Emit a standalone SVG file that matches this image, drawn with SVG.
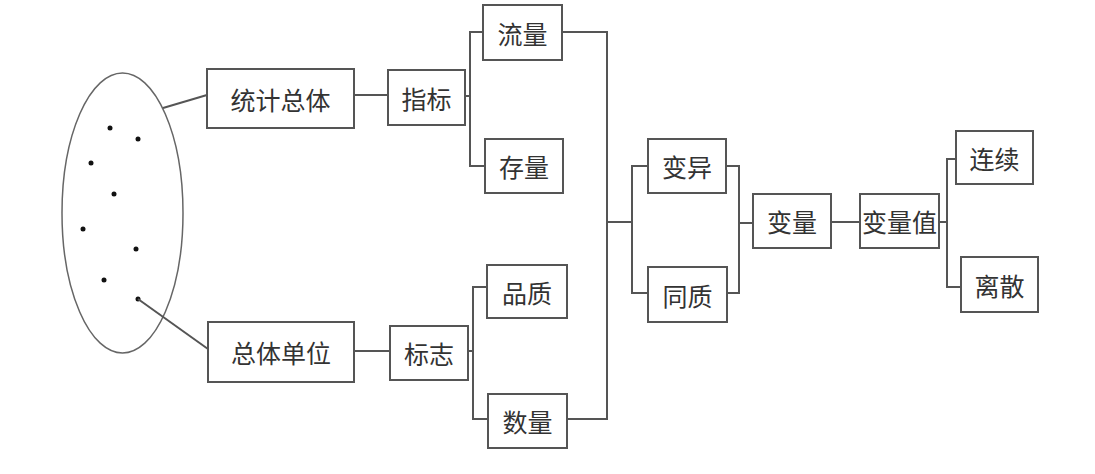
<svg xmlns="http://www.w3.org/2000/svg" width="1095" height="474" viewBox="0 0 1095 474">
<style>
.box{fill:#fff;stroke:#555;stroke-width:2}
.t{font-family:"Noto Sans CJK SC","Noto Sans",sans-serif;font-size:25px;fill:#333;text-anchor:middle;dominant-baseline:central}
.c{fill:none;stroke:#555;stroke-width:2}
.dot{fill:#111}
</style>
<rect width="1095" height="474" fill="#fff"/>
<g id="population">
<ellipse cx="122.5" cy="213" rx="60.5" ry="140" fill="none" stroke="#666" stroke-width="1.5"/>
<circle class="dot" cx="110" cy="128" r="2.5"/>
<circle class="dot" cx="138" cy="139" r="2.5"/>
<circle class="dot" cx="91" cy="163" r="2.5"/>
<circle class="dot" cx="114" cy="194" r="2.5"/>
<circle class="dot" cx="83" cy="229" r="2.5"/>
<circle class="dot" cx="136" cy="249" r="2.5"/>
<circle class="dot" cx="104" cy="280" r="2.5"/>
<circle class="dot" cx="138" cy="299" r="2.5"/>
</g>
<g id="connectors">
<path class="c" d="M163,108 L207,95"/>
<path class="c" d="M138,299 L208,349"/>
<path class="c" d="M354,95 H388"/>
<path class="c" d="M354,351 H390"/>
<path class="c" d="M465,96 H470 M483,32 H470 V166 H485"/>
<path class="c" d="M468,351 H473 M487,287 H473 V419 H488"/>
<path class="c" d="M562,32 H607 V419 H567 M607,222 H632 M648,166 H632 V293 H648"/>
<path class="c" d="M726,166 H739 V293 H727 M739,223 H753"/>
<path class="c" d="M831,222 H860"/>
<path class="c" d="M939,222 H947 M956,159 H947 V287 H961"/>
</g>
<g id="n1"><rect class="box" x="207" y="69" width="147" height="59"/><text class="t" x="280.5" y="98.5">统计总体</text></g>
<g id="n2"><rect class="box" x="208" y="322" width="146" height="60"/><text class="t" x="281" y="352">总体单位</text></g>
<g id="n3"><rect class="box" x="388" y="70" width="77" height="55"/><text class="t" x="426.5" y="97.5">指标</text></g>
<g id="n4"><rect class="box" x="390" y="326" width="78" height="54"/><text class="t" x="429" y="353">标志</text></g>
<g id="n5"><rect class="box" x="483" y="5" width="79" height="55"/><text class="t" x="522.5" y="32.5">流量</text></g>
<g id="n6"><rect class="box" x="485" y="139" width="78" height="54"/><text class="t" x="524" y="166">存量</text></g>
<g id="n7"><rect class="box" x="487" y="265" width="80" height="53"/><text class="t" x="527" y="291.5">品质</text></g>
<g id="n8"><rect class="box" x="488" y="394" width="79" height="54"/><text class="t" x="527.5" y="421">数量</text></g>
<g id="n9"><rect class="box" x="648" y="139" width="78" height="54"/><text class="t" x="687" y="166">变异</text></g>
<g id="n10"><rect class="box" x="648" y="267" width="79" height="55"/><text class="t" x="687.5" y="294.5">同质</text></g>
<g id="n11"><rect class="box" x="753" y="194" width="78" height="54"/><text class="t" x="792" y="221">变量</text></g>
<g id="n12"><rect class="box" x="860" y="194" width="79" height="54"/><text class="t" x="899.5" y="221">变量值</text></g>
<g id="n13"><rect class="box" x="956" y="131" width="77" height="53"/><text class="t" x="994.5" y="157.5">连续</text></g>
<g id="n14"><rect class="box" x="961" y="257" width="77" height="55"/><text class="t" x="999.5" y="284.5">离散</text></g>
</svg>
